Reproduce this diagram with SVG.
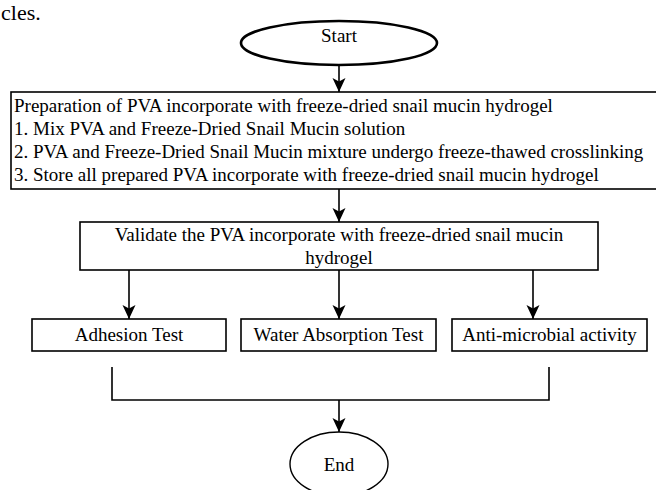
<svg xmlns="http://www.w3.org/2000/svg" width="656" height="490" viewBox="0 0 656 490">
<defs>
<style>
text{font-family:"Liberation Serif","Times New Roman",serif;font-size:19px;fill:#000}
.box{fill:#fff;stroke:#000;stroke-width:1.6}
.c{text-anchor:middle}
.ln{fill:none;stroke:#000;stroke-width:1.6}
</style>
<marker id="ah" viewBox="0 0 14 14" refX="14" refY="7" markerWidth="14" markerHeight="14" markerUnits="userSpaceOnUse" orient="auto">
<path d="M0,0.5 L14,7 L0,13.5 L3.5,7 Z" fill="#000"/>
</marker>
</defs>
<rect width="656" height="490" fill="#fff"/>
<text x="1" y="20" style="font-size:22px">cles.</text>

<g id="connectors">
<line class="ln" x1="339" y1="65" x2="339" y2="92" marker-end="url(#ah)"/>
<line class="ln" x1="339" y1="189" x2="339" y2="222" marker-end="url(#ah)"/>
<line class="ln" x1="129" y1="270" x2="129" y2="319" marker-end="url(#ah)"/>
<line class="ln" x1="339" y1="270" x2="339" y2="319" marker-end="url(#ah)"/>
<line class="ln" x1="533" y1="270" x2="533" y2="319" marker-end="url(#ah)"/>
<path class="ln" d="M112,367 V400 H549 V367"/>
<line class="ln" x1="339" y1="400" x2="339" y2="432" marker-end="url(#ah)"/>
</g>

<g id="start">
<ellipse cx="339" cy="43" rx="98" ry="22" fill="#fff" stroke="#000" stroke-width="2.6"/>
<text class="c" x="339" y="42">Start</text>
</g>

<g id="prep">
<rect class="box" x="11" y="92" width="650" height="97"/>
<text x="14" y="112">Preparation of PVA incorporate with freeze-dried snail mucin hydrogel</text>
<text x="14" y="135">1. Mix PVA and Freeze-Dried Snail Mucin solution</text>
<text x="14" y="158">2. PVA and Freeze-Dried Snail Mucin mixture undergo freeze-thawed crosslinking</text>
<text x="14" y="181">3. Store all prepared PVA incorporate with freeze-dried snail mucin hydrogel</text>
</g>

<g id="validate">
<rect class="box" x="80" y="222" width="518" height="48"/>
<text class="c" x="339" y="241">Validate the PVA incorporate with freeze-dried snail mucin</text>
<text class="c" x="339" y="264">hydrogel</text>
</g>

<g id="adhesion">
<rect class="box" x="32" y="319" width="194" height="32"/>
<text class="c" x="129" y="341">Adhesion Test</text>
</g>

<g id="water">
<rect class="box" x="241" y="319" width="195" height="32"/>
<text class="c" x="338.5" y="341">Water Absorption Test</text>
</g>

<g id="antimicrobial">
<rect class="box" x="452" y="319" width="195" height="32"/>
<text class="c" x="549.5" y="341">Anti-microbial activity</text>
</g>

<g id="end">
<ellipse cx="339" cy="464" rx="49" ry="32" fill="#fff" stroke="#000" stroke-width="1.4"/>
<text class="c" x="339" y="471">End</text>
</g>
</svg>
